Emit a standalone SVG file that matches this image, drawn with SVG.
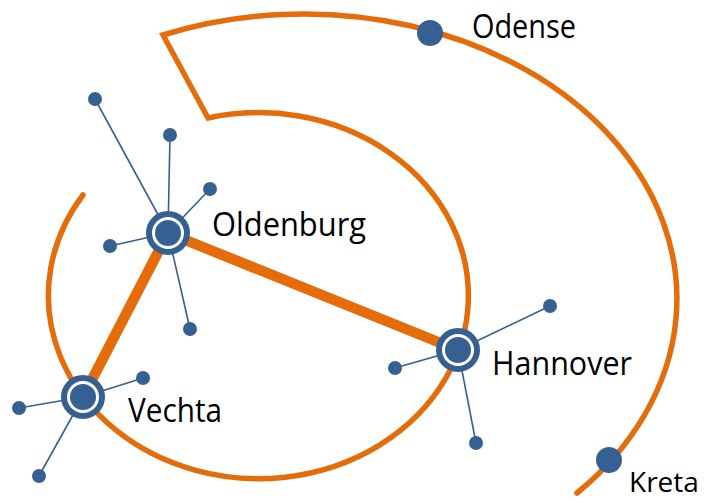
<svg xmlns="http://www.w3.org/2000/svg" width="705" height="501" viewBox="0 0 705 501">
<style>
.route{fill:none;stroke:#E46C0A;stroke-width:5.5;stroke-linecap:round;stroke-linejoin:miter}
.trunk{stroke:#E46C0A;stroke-width:10.5;stroke-linecap:butt}
.spoke{stroke:#376092;stroke-width:1.6}
.dot{fill:#376092}
.ring{fill:#fff;stroke:#376092;stroke-width:6}
.lbl{font-family:"Open Sans","Liberation Sans",sans-serif;font-size:32px;fill:#000}
</style>
<rect width="705" height="501" fill="#fff"/>
<g id="connectors">
<path class="route" d="M83,195 A210,183 0 1,0 208,118 L163,35 A373,285 0 0,1 577,493"/>
<line class="trunk" x1="168" y1="233" x2="83" y2="397"/>
<line class="trunk" x1="168" y1="233" x2="458" y2="350"/>
<g class="spoke">
<line x1="168" y1="233" x2="95" y2="99"/>
<line x1="168" y1="233" x2="170" y2="135"/>
<line x1="168" y1="233" x2="210" y2="189"/>
<line x1="168" y1="233" x2="110" y2="246"/>
<line x1="168" y1="233" x2="190" y2="329"/>
<line x1="83" y1="397" x2="143" y2="378"/>
<line x1="83" y1="397" x2="19" y2="408"/>
<line x1="83" y1="397" x2="39" y2="476"/>
<line x1="458" y1="350" x2="550" y2="306"/>
<line x1="458" y1="350" x2="395" y2="368"/>
<line x1="458" y1="350" x2="476" y2="443"/>
</g>
</g>
<g id="leaves" class="dot">
<circle cx="95" cy="99" r="7"/>
<circle cx="170" cy="135" r="7"/>
<circle cx="210" cy="189" r="7"/>
<circle cx="110" cy="246" r="7"/>
<circle cx="190" cy="329" r="7"/>
<circle cx="143" cy="378" r="7"/>
<circle cx="19" cy="408" r="7"/>
<circle cx="39" cy="476" r="7"/>
<circle cx="550" cy="306" r="7"/>
<circle cx="395" cy="368" r="7"/>
<circle cx="476" cy="443" r="7"/>
</g>
<g id="oldenburg">
<circle class="ring" cx="168" cy="233" r="19"/>
<circle class="dot" cx="168" cy="233" r="13"/>
<text class="lbl" x="212" y="236" textLength="154" lengthAdjust="spacingAndGlyphs">Oldenburg</text>
</g>
<g id="vechta">
<circle class="ring" cx="83" cy="397" r="19"/>
<circle class="dot" cx="83" cy="397" r="13"/>
<text class="lbl" x="128" y="422" textLength="94" lengthAdjust="spacingAndGlyphs">Vechta</text>
</g>
<g id="hannover">
<circle class="ring" cx="458" cy="350" r="19"/>
<circle class="dot" cx="458" cy="350" r="13"/>
<text class="lbl" x="492" y="375" textLength="140" lengthAdjust="spacingAndGlyphs">Hannover</text>
</g>
<g id="odense">
<circle class="dot" cx="430" cy="33" r="13"/>
<text class="lbl" x="472" y="38" textLength="104" lengthAdjust="spacingAndGlyphs">Odense</text>
</g>
<g id="kreta">
<circle class="dot" cx="609" cy="460" r="13"/>
<text class="lbl" x="629" y="492" style="font-size:28px">Kreta</text>
</g>
</svg>
